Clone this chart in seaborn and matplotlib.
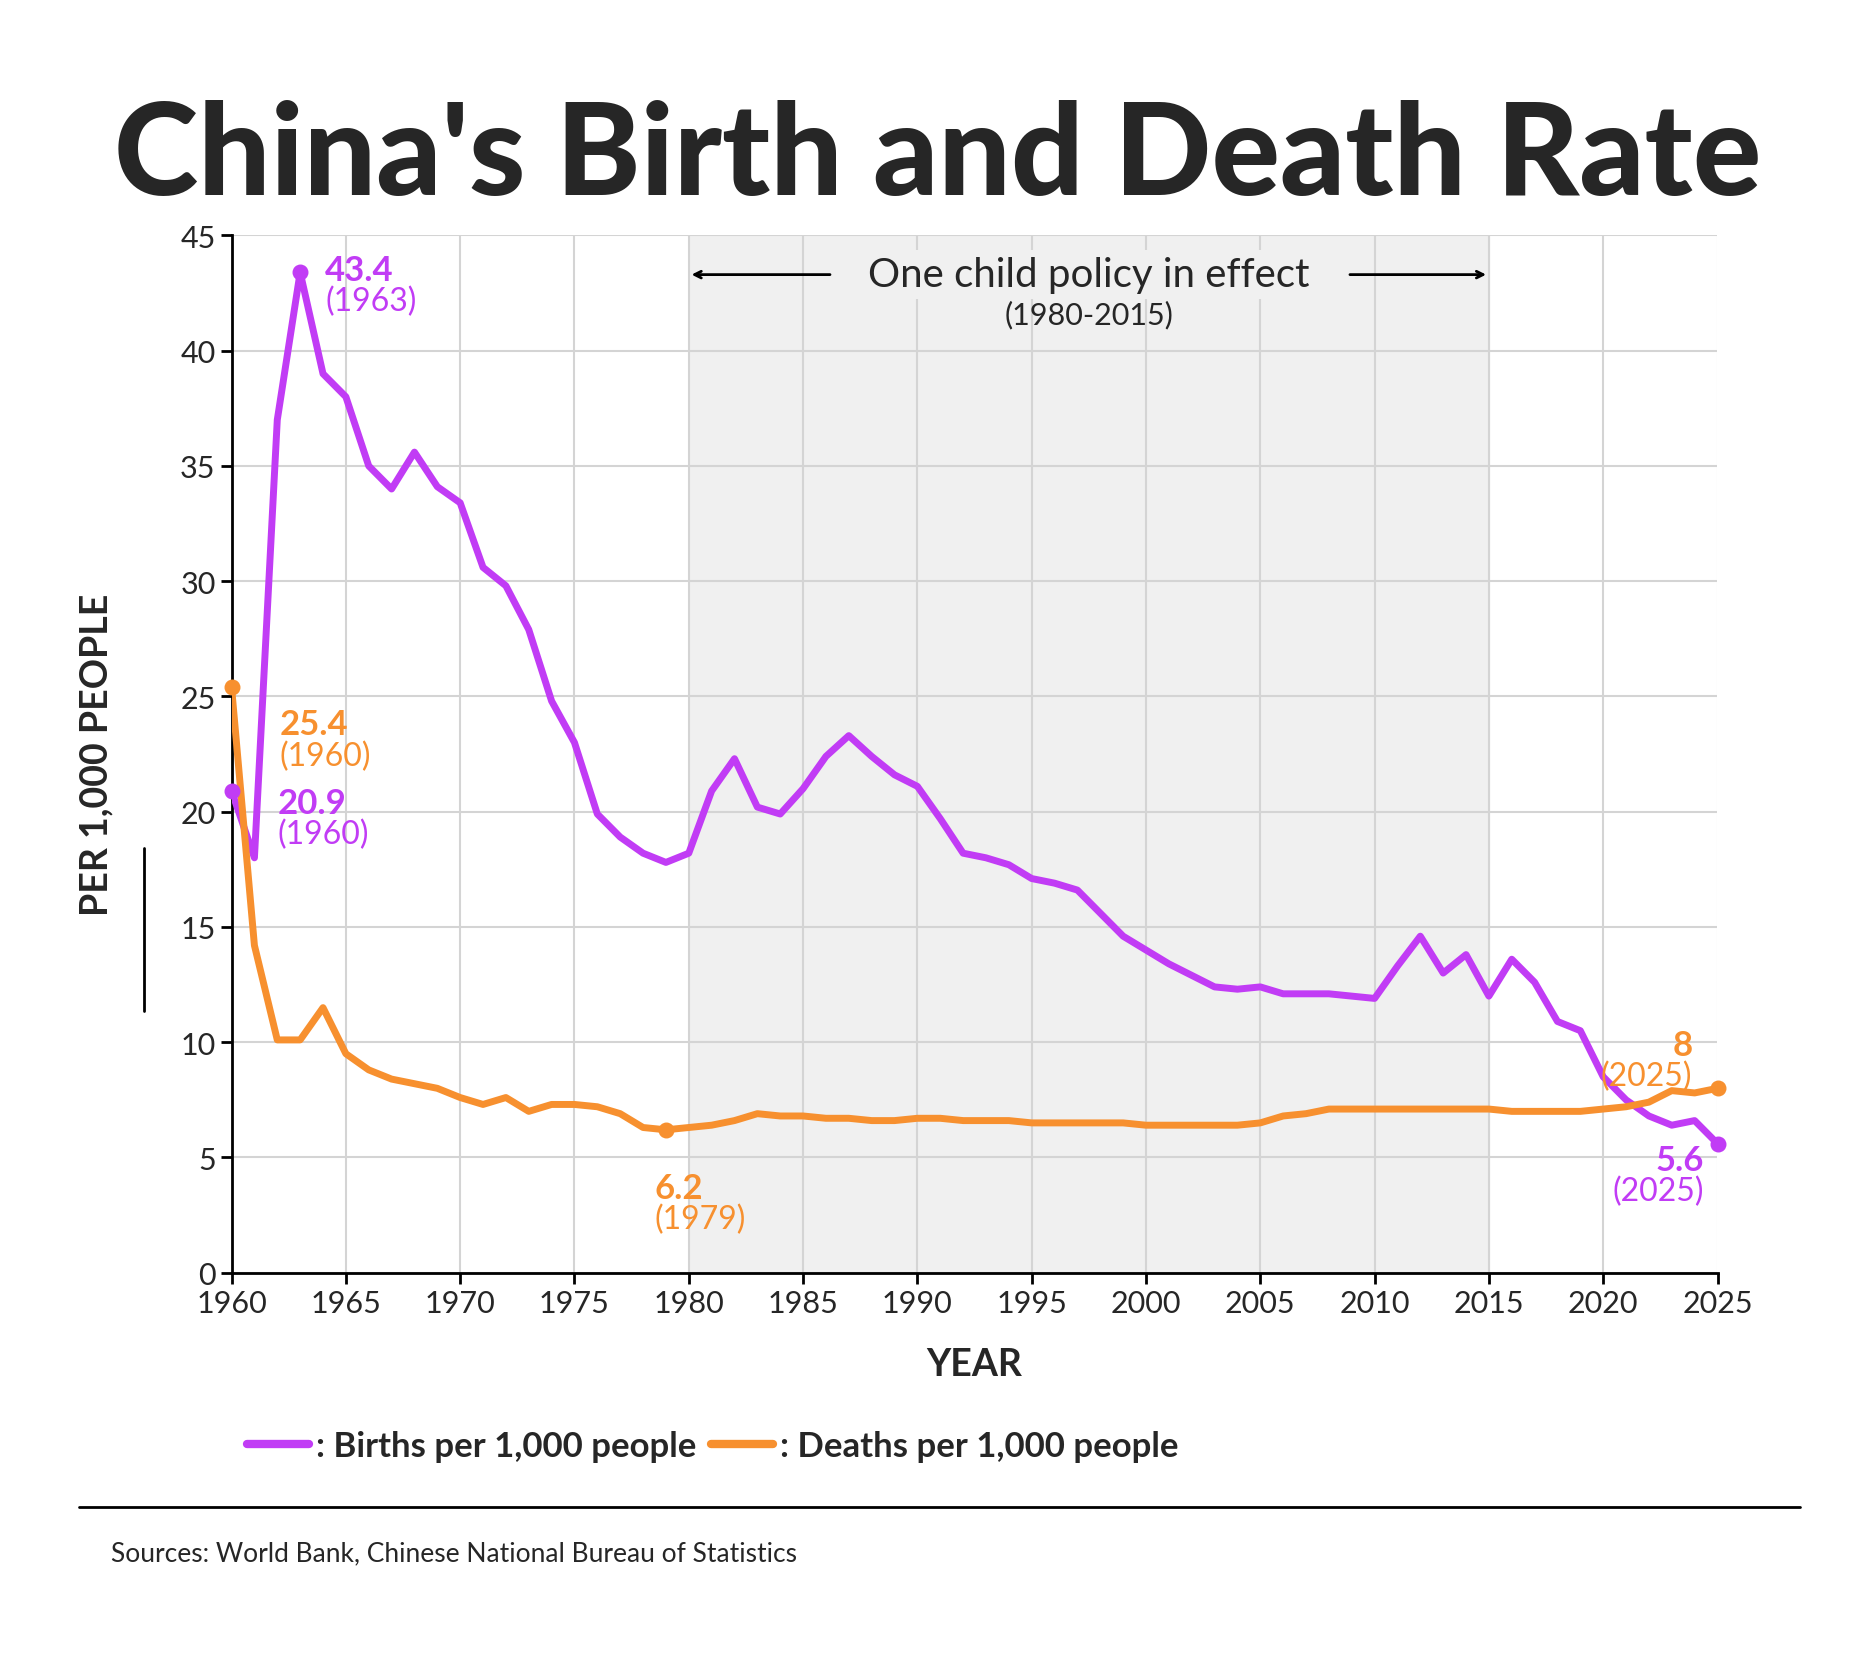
import numpy as np
import pandas as pd
import seaborn as sns
import matplotlib
import matplotlib.pyplot as plt
from matplotlib.lines import Line2D

matplotlib.use('Agg')

years = list(range(1960, 2026))
births = [20.9, 18.0, 37.0, 43.4, 39.0, 38.0, 35.0, 34.0, 35.6, 34.1,
          33.4, 30.6, 29.8, 27.9, 24.8, 23.0, 19.9, 18.9, 18.2, 17.8,
          18.2, 20.9, 22.3, 20.2, 19.9, 21.0, 22.4, 23.3, 22.4, 21.6,
          21.1, 19.7, 18.2, 18.0, 17.7, 17.1, 16.9, 16.6, 15.6, 14.6,
          14.0, 13.4, 12.9, 12.4, 12.3, 12.4, 12.1, 12.1, 12.1, 12.0,
          11.9, 13.3, 14.6, 13.0, 13.8, 12.0, 13.6, 12.6, 10.9, 10.5,
          8.5, 7.5, 6.8, 6.4, 6.6, 5.6]
deaths = [25.4, 14.2, 10.1, 10.1, 11.5, 9.5, 8.8, 8.4, 8.2, 8.0,
          7.6, 7.3, 7.6, 7.0, 7.3, 7.3, 7.2, 6.9, 6.3, 6.2,
          6.3, 6.4, 6.6, 6.9, 6.8, 6.8, 6.7, 6.7, 6.6, 6.6,
          6.7, 6.7, 6.6, 6.6, 6.6, 6.5, 6.5, 6.5, 6.5, 6.5,
          6.4, 6.4, 6.4, 6.4, 6.4, 6.5, 6.8, 6.9, 7.1, 7.1,
          7.1, 7.1, 7.1, 7.1, 7.1, 7.1, 7.0, 7.0, 7.0, 7.0,
          7.1, 7.2, 7.4, 7.9, 7.8, 8.0]
xticks = list(range(1960, 2026, 5))
yticks = list(range(0, 46, 5))

PURPLE = '#c13cf5'
ORANGE = '#f7902f'

sns.set_theme(style='white')
plt.rcParams['font.family'] = ['Lato', 'DejaVu Sans']

df = pd.DataFrame({'year': years, 'births': births, 'deaths': deaths})

fig = plt.figure(figsize=(18.75, 16.65), dpi=100)
ax = fig.add_axes([0.1235, 0.235, 0.7925, 0.623])

ax.axvspan(1980, 2015, color='#f0f0f0', zorder=0)
sns.lineplot(data=df, x='year', y='births', color=PURPLE, lw=5, ax=ax,
             solid_joinstyle='round', solid_capstyle='round', zorder=3)
sns.lineplot(data=df, x='year', y='deaths', color=ORANGE, lw=5, ax=ax,
             solid_joinstyle='round', solid_capstyle='round', zorder=3)

ax.set_xlim(1960, 2025)
ax.set_ylim(0, 45)
ax.set_xticks(xticks)
ax.set_yticks(yticks)
ax.grid(True, color='#d4d4d4', lw=1.5, zorder=1)
ax.set_axisbelow(True)
for s in ['top', 'right']:
    ax.spines[s].set_visible(False)
for s in ['left', 'bottom']:
    ax.spines[s].set_color('black')
    ax.spines[s].set_linewidth(2)
ax.tick_params(axis='both', labelsize=22, length=8, width=2, color='black',
               direction='out', bottom=True, left=True)
ax.set_xlabel('YEAR', fontsize=27, fontweight='bold', labelpad=22)
ax.set_ylabel('PER 1,000 PEOPLE', fontsize=27, fontweight='bold', labelpad=48)

# endpoint dots and labels
def mark(x, y, color, val, dx, dy, ha='left'):
    ax.scatter([x], [y], s=110, color=color, zorder=5, clip_on=False)
    ax.text(x + dx, y + dy, val, color=color, fontsize=25, fontweight='bold',
            ha=ha, va='bottom')
    ax.text(x + dx, y + dy, f'({x})', color=color, fontsize=23, ha=ha, va='top')

mark(1963, births[3], PURPLE, '43.4', 1.1, -0.6)
mark(1960, births[0], PURPLE, '20.9', 2.0, -1.2)
mark(1960, deaths[0], ORANGE, '25.4', 2.1, -2.3)
mark(1979, deaths[19], ORANGE, '6.2', -0.5, -3.2)
mark(2025, births[-1], PURPLE, '5.6', -0.6, -1.4, ha='right')
mark(2025, deaths[-1], ORANGE, '8', -1.1, 1.2, ha='right')

ax.text(1997.5, 43.3, 'One child policy in effect', fontsize=29, ha='center',
        va='center', bbox=dict(fc='#f0f0f0', ec='none', pad=4), zorder=6)
ax.text(1997.5, 41.6, '(1980-2015)', fontsize=22, ha='center', va='center', zorder=6)
ax.annotate('', xy=(1980, 43.3), xytext=(1986.3, 43.3),
            arrowprops=dict(arrowstyle='->', lw=2, color='black'))
ax.annotate('', xy=(2015, 43.3), xytext=(2008.8, 43.3),
            arrowprops=dict(arrowstyle='->', lw=2, color='black'))

fig.text(0.5, 0.905, "China's Birth and Death Rate", fontsize=92, fontweight='black',
         ha='center', va='center')

fig.add_artist(Line2D([0.077, 0.077], [0.392, 0.49], color='black', lw=2))

handles = [Line2D([], [], color=PURPLE, lw=6), Line2D([], [], color=ORANGE, lw=6)]
fig.legend(handles, [': Births per 1,000 people', ': Deaths per 1,000 people'],
           loc='center left', bbox_to_anchor=(0.115, 0.131), ncol=2, frameon=False,
           prop={'size': 25, 'weight': 'bold'}, handlelength=1.8, handletextpad=0.2,
           columnspacing=0.4)

fig.add_artist(Line2D([0.042, 0.96], [0.094, 0.094], color='black', lw=2))
fig.text(0.059, 0.067, 'Sources: World Bank, Chinese National Bureau of Statistics',
         fontsize=19, ha='left', va='center')

fig.savefig('out.png', dpi=100, facecolor='white')
